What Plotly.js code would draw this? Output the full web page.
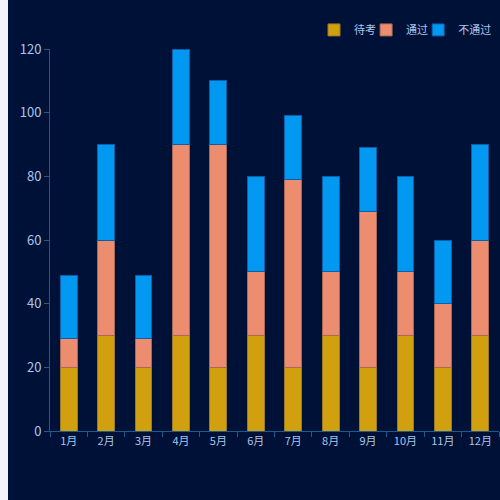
<!DOCTYPE html>
<html>
<head>
<meta charset="utf-8">
<script src="https://cdn.plot.ly/plotly-3.0.1.min.js"></script>
<style>
  html, body { margin: 0; padding: 0; background: #f3f5fa; }
  #myDiv { position: absolute; left: 8px; top: 0; width: 492px; height: 500px; }
</style>
</head>
<body>
<div id="myDiv"></div>
<script>
// datos por mes
const meses = ['1月', '2月', '3月', '4月', '5月', '6月', '7月', '8月', '9月', '10月', '11月', '12月'];
const daiKao = [20, 30, 20, 30, 20, 30, 20, 30, 20, 30, 20, 30];
const tongGuo = [9, 30, 9, 60, 70, 20, 59, 20, 49, 20, 20, 30];
const buTongGuo = [20, 30, 20, 30, 20, 30, 20, 30, 20, 30, 20, 30];

const textColor = '#a9c6ec';
const axisColor = '#1d5b8e';

const serie1 = {
  x: meses,
  y: daiKao,
  type: 'bar',
  name: '待考',
  legend: 'legend',
  marker: { color: '#d0a00f', line: { color: '#9c7a2a', width: 1 } }
};

const serie2 = {
  x: meses,
  y: tongGuo,
  type: 'bar',
  name: '通过',
  legend: 'legend2',
  marker: { color: '#ec8d70', line: { color: '#a86a55', width: 1 } }
};

const serie3 = {
  x: meses,
  y: buTongGuo,
  type: 'bar',
  name: '不通过',
  legend: 'legend3',
  marker: { color: '#0098f1', line: { color: '#0a5fa8', width: 1 } }
};

// una leyenda por serie para colocarlas como en la imagen
function leyenda(xPos) {
  return {
    orientation: 'h',
    x: xPos, xanchor: 'left',
    y: 1.05, yanchor: 'middle',
    font: { size: 11, color: textColor },
    bgcolor: 'rgba(0,0,0,0)'
  };
}

var layout = {
  width: 492,
  height: 500,
  barmode: 'stack',
  bargap: 0.55,
  paper_bgcolor: '#001137',
  plot_bgcolor: '#001137',
  margin: { l: 42, r: 1, t: 49, b: 69, autoexpand: false },
  font: { family: 'Noto Sans CJK SC, Noto Sans, sans-serif', color: textColor },
  showlegend: true,
  legend: leyenda(0.588),
  legend2: leyenda(0.704),
  legend3: leyenda(0.820),
  xaxis: {
    type: 'category',
    showgrid: false,
    showline: true,
    linecolor: axisColor,
    linewidth: 1,
    ticks: 'outside',
    tickcolor: axisColor,
    ticklen: 5,
    tickson: 'boundaries',
    tickfont: { size: 11, color: textColor },
    zeroline: false,
    fixedrange: true
  },
  yaxis: {
    range: [0, 120],
    dtick: 20,
    showgrid: false,
    showline: true,
    linecolor: axisColor,
    linewidth: 1,
    ticks: 'outside',
    tickcolor: axisColor,
    ticklen: 5,
    tickfont: { size: 13, color: textColor },
    zeroline: false,
    fixedrange: true
  }
};

Plotly.newPlot('myDiv', [serie1, serie2, serie3], layout, { displayModeBar: false });
</script>
</body>
</html>
